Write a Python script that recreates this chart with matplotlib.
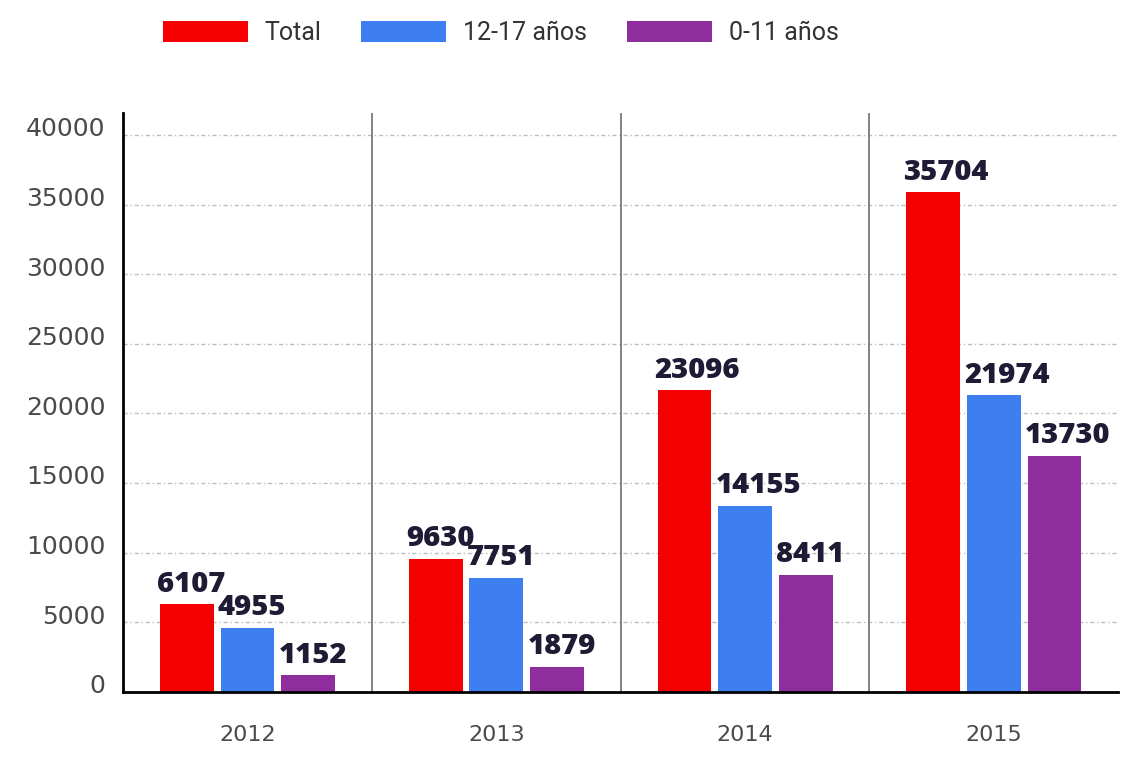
import numpy as np
import matplotlib.pyplot as plt
from matplotlib.patches import Patch
from matplotlib.transforms import ScaledTranslation

years = ["2012", "2013", "2014", "2015"]
series = ["Total", "12-17 años", "0-11 años"]
colors = ["#f50000", "#3d7ef0", "#8f2c9e"]

# bar heights as drawn in the picture
total = [6300, 9550, 21650, 35900]
teen = [4600, 8200, 13350, 21300]
child = [1200, 1800, 8400, 16950]

# numbers printed above the bars
total_lbl = [6107, 9630, 23096, 35704]
teen_lbl = [4955, 7751, 14155, 21974]
child_lbl = [1152, 1879, 8411, 13730]

fig = plt.figure(figsize=(11.41, 7.79), dpi=100)
ax = fig.add_axes([0.108, 0.112, 0.872, 0.743])

x = np.arange(len(years))
w = 0.216
offs = [-0.244, 0.0, 0.244]

for vals, lbls, off, col in zip([total, teen, child], [total_lbl, teen_lbl, child_lbl], offs, colors):
    ax.bar(x + off, vals, width=w, color=col, zorder=3)
    for xi, v, l in zip(x, vals, lbls):
        ax.annotate(str(l), (xi + off - w / 2, v), xytext=(-2, 9), textcoords="offset points",
                    ha="left", va="baseline", fontfamily="Open Sans", fontweight="heavy",
                    fontsize=21, color="#1e1c35", zorder=4)

ax.set_xlim(-0.5, 3.5)
ax.set_ylim(0, 41580)

# separadores entre años
for s in [0.5, 1.5, 2.5]:
    ax.axvline(s, color="#7a7a7a", lw=1.3, zorder=2)

ax.set_yticks(range(0, 40001, 5000))
ax.yaxis.grid(True, linestyle=(0, (3, 2, 1, 2)), color="#bdbdbd", lw=1, zorder=1)
ax.set_xticks(x)
ax.set_xticklabels(years)

for sp in ["top", "right"]:
    ax.spines[sp].set_visible(False)
for sp in ["left", "bottom"]:
    ax.spines[sp].set_color("black")
    ax.spines[sp].set_linewidth(2)
    ax.spines[sp].set_zorder(5)

ax.tick_params(axis="y", length=0, pad=13, labelsize=18, labelcolor="#4a4a4a")
ax.tick_params(axis="x", length=0, pad=24, labelsize=16, labelcolor="#4a4a4a")
for lab in ax.get_yticklabels():
    lab.set_fontfamily("DejaVu Sans")
    lab.set_transform(lab.get_transform() + ScaledTranslation(0, 0.08, fig.dpi_scale_trans))

handles = [Patch(facecolor=c) for c in colors]
leg = fig.legend(handles, series, loc="center", bbox_to_anchor=(0.439, 0.958), ncol=3,
                 frameon=False, handlelength=3.4, handleheight=0.92, handletextpad=0.68,
                 columnspacing=1.6, prop={"family": "Roboto", "size": 18})
for t in leg.get_texts():
    t.set_color("#333333")

fig.savefig("out.png", dpi=100, facecolor="white")
